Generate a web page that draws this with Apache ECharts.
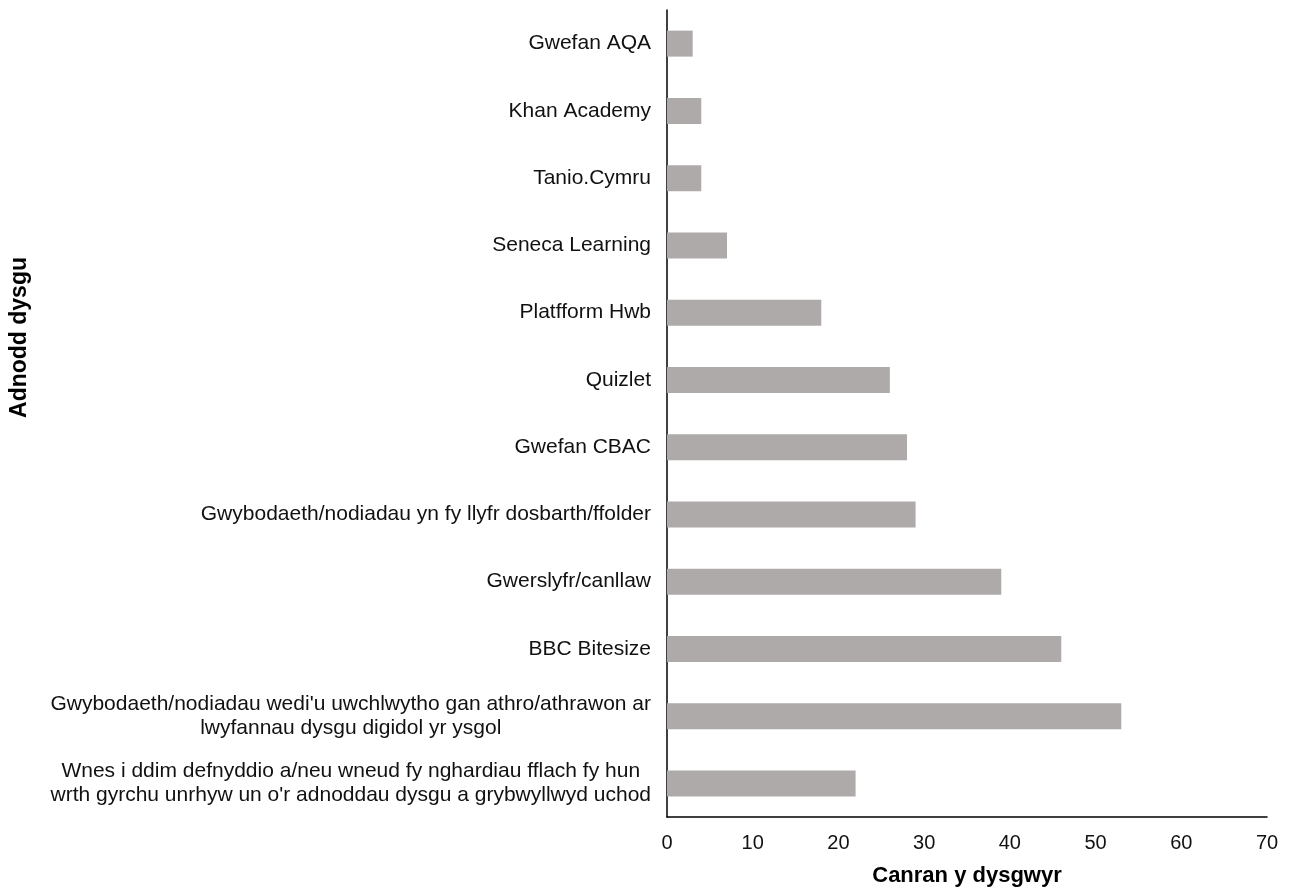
<!DOCTYPE html>
<html>
<head>
<meta charset="utf-8">
<script src="https://cdn.jsdelivr.net/npm/echarts@6/dist/echarts.min.js"></script>
<style>
html,body{margin:0;padding:0;background:#fff;}
#chart{width:1290px;height:892px;}
</style>
</head>
<body>
<div id="chart"></div>
<script>
const categories = [
  "Gwefan AQA",
  "Khan Academy",
  "Tanio.Cymru",
  "Seneca Learning",
  "Platfform Hwb",
  "Quizlet",
  "Gwefan CBAC",
  "Gwybodaeth/nodiadau yn fy llyfr dosbarth/ffolder",
  "Gwerslyfr/canllaw",
  "BBC Bitesize",
  "Gwybodaeth/nodiadau wedi'u uwchlwytho gan athro/athrawon ar\nlwyfannau dysgu digidol yr ysgol",
  "Wnes i ddim defnyddio a/neu wneud fy nghardiau fflach fy hun\nwrth gyrchu unrhyw un o'r adnoddau dysgu a grybwyllwyd uchod"
];
const values = [3, 4, 4, 7, 18, 26, 28, 29, 39, 46, 53, 22];
const xTicks = [0, 10, 20, 30, 40, 50, 60, 70];
const xTitle = "Canran y dysgwyr";
const yTitle = "Adnodd dysgu";

const FONT = "'Liberation Sans', Arial, sans-serif";
const chart = echarts.init(document.getElementById('chart'), null, {renderer: 'canvas'});
chart.setOption({
  animation: false,
  backgroundColor: '#ffffff',
  textStyle: {fontFamily: FONT},
  grid: {left: 667, right: 23, top: 10, bottom: 74, containLabel: false},
  xAxis: {
    type: 'value',
    min: xTicks[0],
    max: xTicks[xTicks.length - 1],
    interval: 10,
    axisLine: {show: true, lineStyle: {color: '#000', width: 1.5}},
    axisTick: {show: false},
    splitLine: {show: false},
    axisLabel: {color: '#111', fontSize: 20, fontFamily: FONT, margin: 16},
    name: xTitle,
    nameLocation: 'middle',
    nameGap: 48,
    nameTextStyle: {color: '#000', fontSize: 22, fontWeight: 'bold', fontFamily: FONT}
  },
  yAxis: {
    type: 'category',
    inverse: true,
    data: categories,
    axisLine: {show: true, lineStyle: {color: '#000', width: 1.5}},
    axisTick: {show: false},
    splitLine: {show: false},
    axisLabel: {
      color: '#111',
      fontSize: 21,
      fontFamily: FONT,
      margin: 16,
      lineHeight: 24,
      formatter: function (v) {
        return v.split('\n').map(function (s) { return '{c|' + s + '}'; }).join('\n');
      },
      rich: {c: {align: 'center', fontSize: 21, lineHeight: 24, color: '#111', fontFamily: FONT}}
    }
  },
  graphic: [{
    type: 'text',
    left: 8,
    top: 257,
    rotation: Math.PI / 2,
    style: {
      text: yTitle,
      fill: '#000',
      font: 'bold 23px ' + FONT
    }
  }],
  series: [{
    type: 'bar',
    data: values,
    barWidth: 26,
    itemStyle: {color: '#aeaaaa'}
  }]
});
</script>
</body>
</html>
